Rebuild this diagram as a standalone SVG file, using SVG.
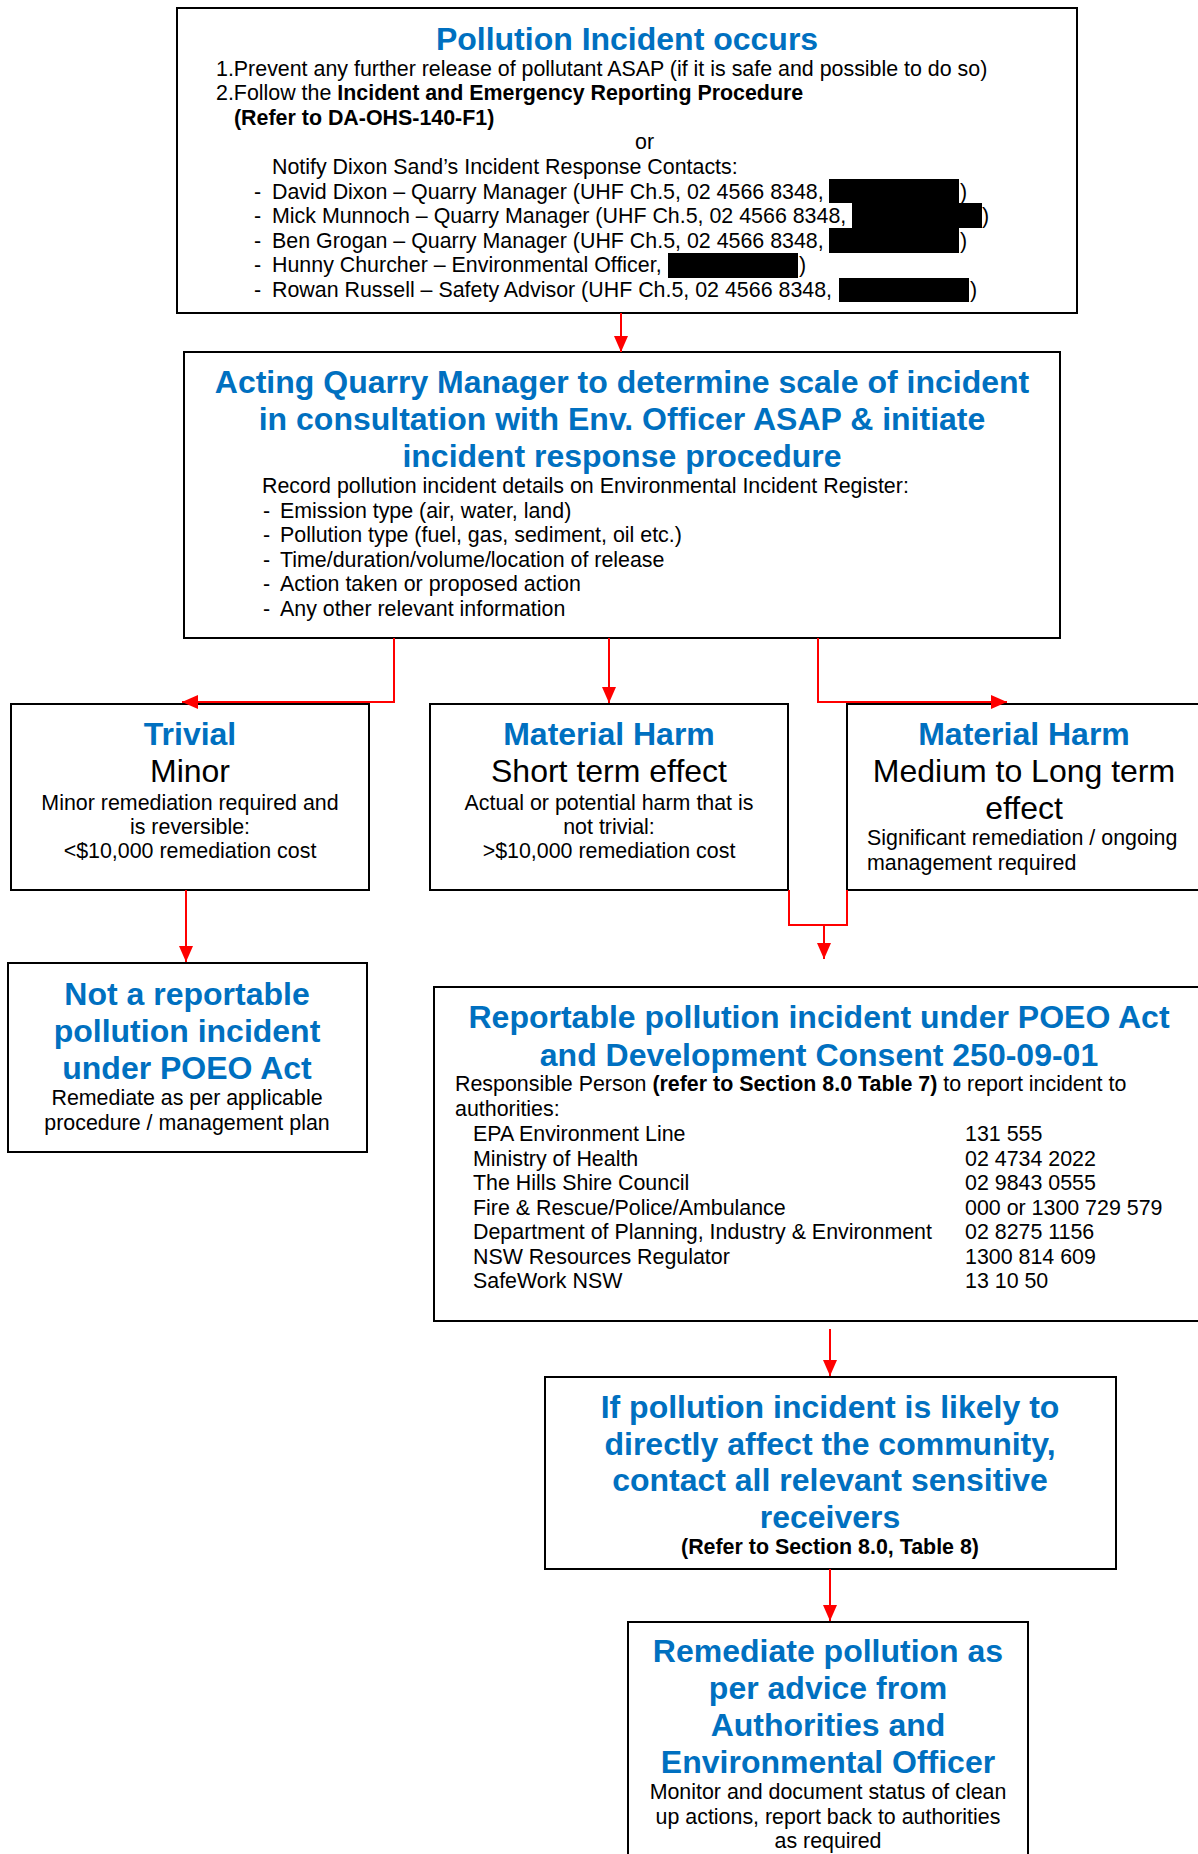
<svg xmlns="http://www.w3.org/2000/svg" width="1198" height="1854" viewBox="0 0 1198 1854">
<defs>
<style>
text{font-family:"Liberation Sans",Arial,sans-serif;fill:#000}
.t{font-size:32px;font-weight:bold;fill:#0070C0;text-anchor:middle}
.m{font-size:32px;text-anchor:middle}
.b{font-size:21.4px}
.c{text-anchor:middle}
.bd{font-weight:bold}
.box{fill:#fff;stroke:#000;stroke-width:2}
.con{fill:none;stroke:#FF0000;stroke-width:2}
.red{fill:#000}
</style>
<marker id="ah" viewBox="0 0 16 14" markerWidth="16" markerHeight="14" refX="16" refY="7" orient="auto" markerUnits="userSpaceOnUse">
<path d="M0,0 L16,7 L0,14 z" fill="#FF0000"/>
</marker>
</defs>
<rect width="1198" height="1854" fill="#fff"/>

<g id="n1">
<rect class="box" x="177" y="8" width="900" height="305"/>
<text class="t" x="627" y="50">Pollution Incident occurs</text>
<text class="b" x="216" y="75.5">1.Prevent any further release of pollutant ASAP (if it is safe and possible to do so)</text>
<text class="b" x="216" y="100">2.Follow the <tspan class="bd">Incident and Emergency Reporting Procedure</tspan></text>
<text class="b bd" x="234" y="125">(Refer to DA-OHS-140-F1)</text>
<text class="b" x="635" y="149">or</text>
<text class="b" x="272" y="174">Notify Dixon Sand’s Incident Response Contacts:</text>
<text class="b" x="254" y="198.5">-</text>
<text class="b" x="272" y="198.5">David Dixon – Quarry Manager (UHF Ch.5, 02 4566 8348,</text>
<rect class="red" x="829" y="179" width="130" height="24"/>
<text class="b" x="960" y="198.5">)</text>
<text class="b" x="254" y="223">-</text>
<text class="b" x="272" y="223">Mick Munnoch – Quarry Manager (UHF Ch.5, 02 4566 8348,</text>
<rect class="red" x="852" y="203" width="130" height="25"/>
<text class="b" x="982" y="223">)</text>
<text class="b" x="254" y="247.5">-</text>
<text class="b" x="272" y="247.5">Ben Grogan – Quarry Manager (UHF Ch.5, 02 4566 8348,</text>
<rect class="red" x="829" y="228" width="130" height="25"/>
<text class="b" x="960" y="247.5">)</text>
<text class="b" x="254" y="272">-</text>
<text class="b" x="272" y="272">Hunny Churcher – Environmental Officer,</text>
<rect class="red" x="668" y="253" width="130" height="25"/>
<text class="b" x="799" y="272">)</text>
<text class="b" x="254" y="296.5">-</text>
<text class="b" x="272" y="296.5">Rowan Russell – Safety Advisor (UHF Ch.5, 02 4566 8348,</text>
<rect class="red" x="839" y="278" width="130" height="24"/>
<text class="b" x="970" y="296.5">)</text>
</g>

<g id="n2">
<rect class="box" x="184" y="352" width="876" height="286"/>
<text class="t" x="622" y="393">Acting Quarry Manager to determine scale of incident</text>
<text class="t" x="622" y="430">in consultation with Env. Officer ASAP &amp; initiate</text>
<text class="t" x="622" y="467">incident response procedure</text>
<text class="b" x="262" y="493">Record pollution incident details on Environmental Incident Register:</text>
<text class="b" x="263" y="518">-</text>
<text class="b" x="280" y="518">Emission type (air, water, land)</text>
<text class="b" x="263" y="542">-</text>
<text class="b" x="280" y="542">Pollution type (fuel, gas, sediment, oil etc.)</text>
<text class="b" x="263" y="567">-</text>
<text class="b" x="280" y="567">Time/duration/volume/location of release</text>
<text class="b" x="263" y="591">-</text>
<text class="b" x="280" y="591">Action taken or proposed action</text>
<text class="b" x="263" y="616">-</text>
<text class="b" x="280" y="616">Any other relevant information</text>
</g>

<g id="n3">
<rect class="box" x="11" y="704" width="358" height="186"/>
<text class="t" x="190" y="745">Trivial</text>
<text class="m" x="190" y="782">Minor</text>
<text class="b c" x="190" y="809.5">Minor remediation required and</text>
<text class="b c" x="190" y="833.5">is reversible:</text>
<text class="b c" x="190" y="858">&lt;$10,000 remediation cost</text>
</g>

<g id="n4">
<rect class="box" x="430" y="704" width="358" height="186"/>
<text class="t" x="609" y="745">Material Harm</text>
<text class="m" x="609" y="782">Short term effect</text>
<text class="b c" x="609" y="809.5">Actual or potential harm that is</text>
<text class="b c" x="609" y="833.5">not trivial:</text>
<text class="b c" x="609" y="858">&gt;$10,000 remediation cost</text>
</g>

<g id="n5">
<rect class="box" x="847" y="704" width="362" height="186"/>
<text class="t" x="1024" y="745">Material Harm</text>
<text class="m" x="1024" y="782">Medium to Long term</text>
<text class="m" x="1024" y="819">effect</text>
<text class="b" x="867" y="845">Significant remediation / ongoing</text>
<text class="b" x="867" y="870">management required</text>
</g>

<g id="n6">
<rect class="box" x="8" y="963" width="359" height="189"/>
<text class="t" x="187" y="1005">Not a reportable</text>
<text class="t" x="187" y="1042">pollution incident</text>
<text class="t" x="187" y="1079">under POEO Act</text>
<text class="b c" x="187" y="1105">Remediate as per applicable</text>
<text class="b c" x="187" y="1130">procedure / management plan</text>
</g>

<g id="n7">
<rect class="box" x="434" y="987" width="775" height="334"/>
<text class="t" x="819" y="1028">Reportable pollution incident under POEO Act</text>
<text class="t" x="819" y="1065.5">and Development Consent 250-09-01</text>
<text class="b" x="455" y="1091">Responsible Person <tspan class="bd">(refer to Section 8.0 Table 7)</tspan> to report incident to</text>
<text class="b" x="455" y="1116">authorities:</text>
<text class="b" x="473" y="1141">EPA Environment Line</text>
<text class="b" x="965" y="1141">131 555</text>
<text class="b" x="473" y="1166">Ministry of Health</text>
<text class="b" x="965" y="1166">02 4734 2022</text>
<text class="b" x="473" y="1190">The Hills Shire Council</text>
<text class="b" x="965" y="1190">02 9843 0555</text>
<text class="b" x="473" y="1214.5">Fire &amp; Rescue/Police/Ambulance</text>
<text class="b" x="965" y="1214.5">000 or 1300 729 579</text>
<text class="b" x="473" y="1239">Department of Planning, Industry &amp; Environment</text>
<text class="b" x="965" y="1239">02 8275 1156</text>
<text class="b" x="473" y="1263.5">NSW Resources Regulator</text>
<text class="b" x="965" y="1263.5">1300 814 609</text>
<text class="b" x="473" y="1288">SafeWork NSW</text>
<text class="b" x="965" y="1288">13 10 50</text>
</g>

<g id="n8">
<rect class="box" x="545" y="1377" width="571" height="192"/>
<text class="t" x="830" y="1418">If pollution incident is likely to</text>
<text class="t" x="830" y="1454.5">directly affect the community,</text>
<text class="t" x="830" y="1491">contact all relevant sensitive</text>
<text class="t" x="830" y="1528">receivers</text>
<text class="b bd c" x="830" y="1554">(Refer to Section 8.0, Table 8)</text>
</g>

<g id="n9">
<rect class="box" x="628" y="1622" width="400" height="250"/>
<text class="t" x="828" y="1662">Remediate pollution as</text>
<text class="t" x="828" y="1699">per advice from</text>
<text class="t" x="828" y="1736">Authorities and</text>
<text class="t" x="828" y="1773">Environmental Officer</text>
<text class="b c" x="828" y="1799">Monitor and document status of clean</text>
<text class="b c" x="828" y="1824">up actions, report back to authorities</text>
<text class="b c" x="828" y="1848">as required</text>
</g>

<g id="connectors">
<path class="con" d="M621,313 V352" marker-end="url(#ah)"/>
<path class="con" d="M394,638 V702 H182" marker-end="url(#ah)"/>
<path class="con" d="M609,638 V703" marker-end="url(#ah)"/>
<path class="con" d="M818,638 V702 H1007" marker-end="url(#ah)"/>
<path class="con" d="M186,890 V962" marker-end="url(#ah)"/>
<path class="con" d="M789,890 V925 H847 V890"/>
<path class="con" d="M824,925 V959" marker-end="url(#ah)"/>
<path class="con" d="M830,1329 V1376" marker-end="url(#ah)"/>
<path class="con" d="M830,1569 V1621" marker-end="url(#ah)"/>
</g>
</svg>
